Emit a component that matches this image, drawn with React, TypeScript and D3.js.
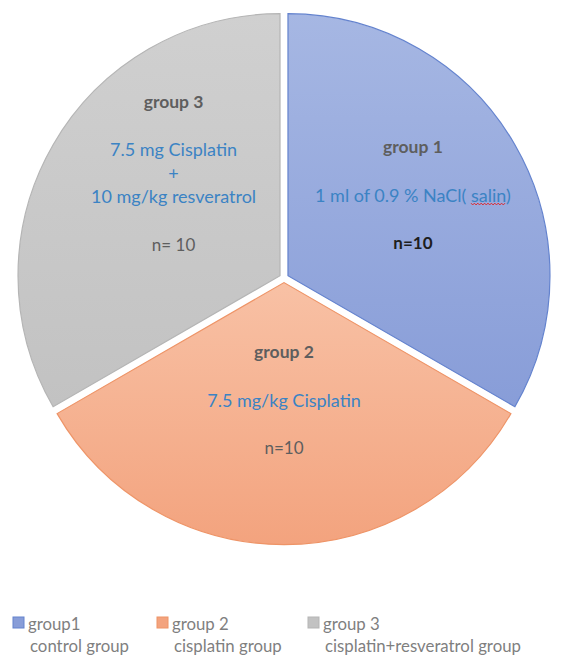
import React, { useEffect, useRef } from "react";
import * as d3 from "d3";

// ---- data ----
const groups = ["group 1", "group 2", "group 3"];
const counts = [10, 10, 10];
const treatment1 = ["1 ml of 0.9 % NaCl( salin)"];
const treatment2 = ["7.5 mg/kg Cisplatin"];
const treatment3 = ["7.5 mg Cisplatin", "+", "10 mg/kg resveratrol"];
const nLabels = ["n=10", "n=10", "n= 10"];
const legendNames = ["group1", "group 2", "group 3"];
const legendDescs = ["control group", "cisplatin group", "cisplatin+resveratrol group"];
const misspelled = "salin";

// ---- layout / style ----
const W = 562;
const H = 655;
const cx = 284;
const cy = 278;
const R = 262;
const explode = 4.6;
const FONT = "Lato, 'Open Sans', sans-serif";

const fills = [
  ["#A6B7E3", "#889DD8"],
  ["#F8C1A5", "#F3A37E"],
  ["#D0D0D0", "#C2C2C2"],
];
const strokes = ["#6483CE", "#EE9467", "#B5B5B5"];
const nColors = ["#1E1E1E", "#5E5E5E", "#5E5E5E"];
const nWeights = [700, 400, 400];
const labelAnchor = [
  { a: 57, d: 149 },
  { a: 180, d: 117 },
  { a: -46, d: 148 },
];
const legendX = [13, 157, 308];

export default function App() {
  const nacl = useRef<SVGTextElement>(null);
  const squiggle = useRef<SVGPathElement>(null);

  useEffect(() => {
    document.body.style.margin = "0";
    const t = nacl.current;
    if (!t || !squiggle.current) return;
    const full = t.textContent || "";
    const idx = full.indexOf(misspelled);
    if (idx < 0) return;
    const start = t.getStartPositionOfChar(idx).x;
    const end = t.getEndPositionOfChar(idx + misspelled.length - 1).x;
    const bb = t.getBBox();
    const y0 = bb.y + bb.height - 1.5;
    const pts: [number, number][] = [];
    const step = 1.7;
    let k = 0;
    for (let x = start; x <= end; x += step, k++) pts.push([x, y0 + (k % 2 === 0 ? -0.9 : 0.9)]);
    d3.select(squiggle.current).attr("d", d3.line()(pts) || "");
  }, []);

  const arcs = d3.pie<number>().sort(null).startAngle(0).endAngle(2 * Math.PI)(counts);
  const arcGen = d3.arc<d3.PieArcDatum<number>>().innerRadius(0).outerRadius(R);
  const treatments = [treatment1, treatment2, treatment3];

  return (
    <svg width={W} height={H} style={{ position: "absolute", left: 0, top: 0, background: "#fff" }}>
      <defs>
        {fills.map((f, i) => (
          <linearGradient key={i} id={`g${i}`} x1="0" y1="0" x2="0" y2="1">
            <stop offset="0" stopColor={f[0]} />
            <stop offset="1" stopColor={f[1]} />
          </linearGradient>
        ))}
      </defs>
      <rect width={W} height={H} fill="#fff" />
      {arcs.map((a, i) => {
        const mid = (a.startAngle + a.endAngle) / 2;
        const dx = explode * Math.sin(mid);
        const dy = -explode * Math.cos(mid);
        return (
          <path
            key={i}
            d={arcGen(a) || ""}
            transform={`translate(${cx + dx},${cy + dy})`}
            fill={`url(#g${i})`}
            stroke={strokes[i]}
            strokeWidth={1.2}
          />
        );
      })}
      {arcs.map((a, i) => {
        const mid = (a.startAngle + a.endAngle) / 2;
        const ax = cx + explode * Math.sin(mid);
        const ay = cy - explode * Math.cos(mid);
        const ang = (labelAnchor[i].a * Math.PI) / 180;
        const bx = ax + labelAnchor[i].d * Math.sin(ang);
        const byCenter = ay - labelAnchor[i].d * Math.cos(ang);
        const lines = treatments[i];
        const gap = 48;
        const lh = 23.5;
        const blockH = gap * 2 + lh * (lines.length - 1);
        const top = byCenter - blockH / 2;
        return (
          <g key={i} fontFamily={FONT} textAnchor="middle" dominantBaseline="central">
            <text x={bx} y={top} fontSize={17.5} fontWeight={700} fill="#5E5E5E">
              {groups[i]}
            </text>
            {lines.map((l, j) => (
              <text
                key={j}
                ref={i === 0 && j === 0 ? nacl : undefined}
                x={bx}
                y={top + gap + j * lh}
                fontSize={18}
                fill="#3B83C4"
              >
                {l}
              </text>
            ))}
            <text
              x={bx}
              y={top + blockH}
              fontSize={17}
              fontWeight={nWeights[i]}
              fill={nColors[i]}
            >
              {nLabels[i]}
            </text>
          </g>
        );
      })}
      <path ref={squiggle} fill="none" stroke="#E0262B" strokeWidth={1} />
      <g fontFamily={FONT} fontSize={16.8} fill="#7F7F7F">
        {legendNames.map((n, i) => (
          <g key={i} transform={`translate(${legendX[i]},0)`}>
            <rect x={0} y={617} width={11} height={11} fill={fills[i][1]} stroke={strokes[i]} strokeWidth={1} />
            <text x={15} y={623} dominantBaseline="central">
              {n}
            </text>
            <text x={17} y={645} dominantBaseline="central">
              {legendDescs[i]}
            </text>
          </g>
        ))}
      </g>
    </svg>
  );
}
